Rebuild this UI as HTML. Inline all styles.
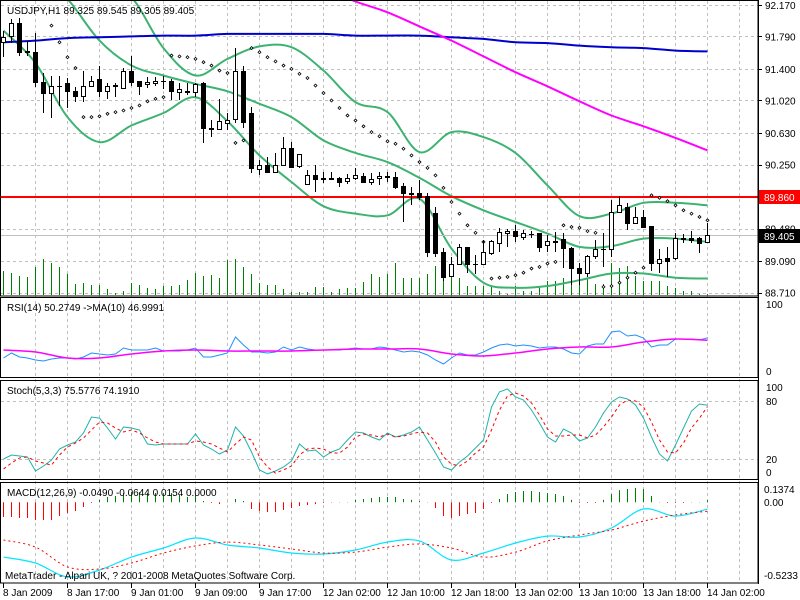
<!DOCTYPE html>
<html><head><meta charset="utf-8"><style>
html,body{margin:0;padding:0;background:#fff;}
svg{display:block;font-family:"Liberation Sans",sans-serif;}
text{font-size:10px;fill:#000;}
</style></head><body>
<svg id="chart" width="800" height="600" xmlns="http://www.w3.org/2000/svg">
<defs>
<clipPath id="cMain"><rect x="1" y="1" width="757" height="295"/></clipPath>
<clipPath id="cRsi"><rect x="1" y="298" width="757" height="79"/></clipPath>
<clipPath id="cSto"><rect x="1" y="381" width="757" height="98"/></clipPath>
<clipPath id="cMacd"><rect x="1" y="483" width="757" height="100"/></clipPath>
</defs>
<rect x="0" y="0" width="800" height="600" fill="#fff"/>
<g id="grid"></g>
<g id="main" clip-path="url(#cMain)"></g>
<g id="rsi" clip-path="url(#cRsi)"></g>
<g id="sto" clip-path="url(#cSto)"></g>
<g id="macd" clip-path="url(#cMacd)"></g>
<g id="frame">
<rect x="0.5" y="0.5" width="757.5" height="295.5" fill="none" stroke="#000"/>
<rect x="0.5" y="297.5" width="757.5" height="80" fill="none" stroke="#000"/>
<rect x="0.5" y="380.5" width="757.5" height="99" fill="none" stroke="#000"/>
<rect x="0.5" y="482.5" width="757.5" height="100.5" fill="none" stroke="#000"/>
</g>
<g id="axis"></g>
<text x="7" y="14">USDJPY,H1  89.325 89.545 89.305 89.405</text>
<text x="7" y="311">RSI(14) 50.2749  -&gt;MA(10) 46.9991</text>
<text x="7" y="394">Stoch(5,3,3) 75.5776 74.1910</text>
<text x="7" y="496">MACD(12,26,9) -0.0490 -0.0644 0.0154 0.0000</text>
<text x="5" y="579">MetaTrader - Alpari UK, ? 2001-2008 MetaQuotes Software Corp.</text>
</svg>
<script>
const opens=[91.72,91.80,91.95,91.61,91.60,91.24,91.11,91.19,91.23,91.14,91.07,91.20,91.28,91.14,91.20,91.17,91.38,91.25,91.22,91.23,91.26,91.25,91.12,91.13,91.12,91.23,90.69,90.68,90.75,90.80,91.37,90.87,90.20,90.24,90.16,90.24,90.45,90.23,90.02,90.12,90.09,90.09,90.09,90.05,90.09,90.11,90.04,90.09,90.11,90.10,89.99,89.91,89.91,89.87,89.67,89.20,88.91,89.06,89.26,89.06,89.06,89.19,89.31,89.43,89.45,89.38,89.42,89.43,89.28,89.33,89.36,89.25,89.01,88.95,89.15,89.24,89.24,89.68,89.74,89.55,89.62,89.51,89.07,89.13,89.13,89.37,89.37,89.37,89.325];
const highs=[91.86,92.00,92.01,91.74,91.83,91.35,91.32,91.31,91.29,91.18,91.37,91.31,91.44,91.23,91.23,91.41,91.56,91.26,91.30,91.30,91.32,91.28,91.23,91.23,91.23,91.24,90.78,91.04,90.87,91.65,91.44,90.94,90.30,90.34,90.39,90.58,90.52,90.38,90.18,90.24,90.16,90.16,90.10,90.14,90.21,90.15,90.15,90.16,90.16,90.16,90.03,89.98,90.06,89.91,89.74,89.25,89.14,89.30,89.26,89.16,89.34,89.34,89.49,89.48,89.52,89.46,89.45,89.43,89.40,89.44,89.43,89.26,89.07,89.16,89.34,89.43,89.82,89.87,89.79,89.74,89.70,89.51,89.24,89.26,89.43,89.42,89.45,89.38,89.545];
const lows=[91.54,91.71,91.56,91.56,91.18,90.87,90.81,90.95,90.93,91.00,91.00,91.18,91.06,91.04,91.06,91.17,91.20,91.08,91.17,91.20,91.16,91.02,91.02,91.08,91.06,90.51,90.58,90.66,90.66,90.75,90.69,90.15,90.12,90.15,90.15,90.23,90.21,90.21,90.02,89.92,90.03,90.06,89.98,90.02,90.06,90.03,90.00,90.00,90.04,89.96,89.56,89.76,89.82,89.14,89.14,88.85,88.90,89.04,88.95,88.94,89.04,89.16,89.20,89.26,89.32,89.34,89.37,89.20,89.20,89.20,89.01,88.80,88.80,88.90,89.12,89.02,89.14,89.67,89.46,89.54,89.49,88.97,88.95,88.90,89.10,89.31,89.31,89.19,89.305];
const closes=[91.78,91.95,91.60,91.60,91.24,91.11,91.20,91.20,91.13,91.07,91.20,91.26,91.13,91.19,91.21,91.37,91.24,91.20,91.24,91.26,91.25,91.13,91.16,91.12,91.22,90.69,90.68,90.77,90.78,91.37,90.76,90.21,90.24,90.16,90.24,90.45,90.22,90.38,90.12,90.08,90.08,90.08,90.04,90.09,90.12,90.04,90.08,90.11,90.10,89.98,89.91,89.90,89.86,89.20,89.19,88.90,89.06,89.26,89.06,89.05,89.20,89.33,89.44,89.45,89.39,89.43,89.41,89.26,89.33,89.32,89.25,89.01,88.95,89.15,89.24,89.23,89.68,89.76,89.55,89.62,89.50,89.07,89.12,89.09,89.37,89.36,89.34,89.31,89.405];
const volumes=[720,660,570,540,840,1080,960,840,630,330,360,300,300,180,60,120,360,300,210,180,270,270,300,450,660,570,600,510,1050,1080,840,630,360,300,300,180,90,90,90,240,240,90,180,210,210,390,630,540,630,960,510,510,510,630,870,420,570,510,270,270,270,270,120,30,270,120,120,270,420,420,510,630,570,480,330,330,960,810,870,570,420,420,420,270,210,120,120,30,30];
const sar=[null,null,null,null,null,null,91.92,91.72,91.54,91.41,90.82,90.82,90.83,90.86,90.88,90.90,90.93,90.96,91.01,91.04,91.06,91.56,91.55,91.54,91.52,91.48,91.44,91.38,91.35,90.51,90.54,91.65,91.60,91.54,91.49,91.44,91.40,91.34,91.29,91.20,91.11,91.02,90.93,90.84,90.78,90.71,90.64,90.59,90.53,90.50,90.44,90.36,90.28,90.21,90.12,89.97,89.80,89.66,89.52,89.43,89.32,88.88,88.89,88.90,88.92,88.95,89.00,89.02,89.06,89.08,89.52,89.50,89.49,89.45,89.43,88.78,88.79,88.83,88.89,88.95,89.01,89.88,89.85,89.81,89.76,89.70,89.66,89.62,89.58];
// sampled every 4 bars (bar 0,4,...,88)
const bbUpper=[92.82,92.76,92.64,92.46,92.26,91.65,91.32,91.52,91.67,91.66,91.38,91.00,90.88,90.40,90.64,90.58,90.39,90.00,89.63,89.66,89.79,89.79,89.76];
const bbMiddle=[93.00,92.58,92.24,91.74,91.44,91.32,91.22,91.13,90.98,90.82,90.54,90.39,90.28,90.09,89.87,89.70,89.56,89.42,89.26,89.27,89.36,89.36,89.32];
const bbLower=[91.86,91.47,90.82,90.52,90.72,90.87,91.06,90.77,90.36,90.04,89.75,89.66,89.64,89.84,89.24,88.83,88.77,88.79,88.86,88.94,88.94,88.89,88.88];
const maSlow=[91.72,91.74,91.77,91.78,91.79,91.80,91.80,91.82,91.82,91.82,91.82,91.80,91.80,91.80,91.78,91.76,91.72,91.71,91.68,91.66,91.65,91.62,91.61];
const maFast=[null,null,null,null,null,null,null,null,null,null,92.37,92.21,92.08,91.91,91.74,91.55,91.36,91.19,91.01,90.84,90.71,90.57,90.42];
const rsiVals=[23.7,30.3,25.0,23.7,21.1,19.7,22.4,23.7,23.7,22.4,25.0,30.3,29.0,27.6,29.0,36.8,34.2,34.2,34.2,36.8,32.9,32.9,32.9,34.2,36.8,25.0,25.0,27.6,30.3,51.3,40.8,31.6,31.6,30.3,31.6,38.2,34.2,38.2,35.5,34.2,34.2,34.2,34.2,35.5,36.8,35.5,35.5,38.2,36.8,34.2,31.6,32.9,31.6,27.6,21.1,15.8,23.7,30.3,27.6,27.6,31.6,36.8,40.8,42.1,39.5,40.8,39.5,36.8,38.2,38.2,35.5,30.3,29.0,39.5,42.1,42.1,57.9,59.2,52.6,54.0,50.0,38.2,40.8,40.8,48.7,48.7,48.7,47.4,50.3];
const rsiMa=[34.2,31.6,23.7,23.7,29.0,32.9,34.2,32.9,32.9,32.9,34.2,35.5,35.5,35.5,29.0,26.3,30.3,35.5,38.2,38.2,44.7,48.7,47.0];
const stochMain=[20.0,24.1,23.1,22.0,7.5,12.7,18.9,30.3,34.4,37.5,46.8,63.4,62.3,52.0,40.6,53.0,52.0,49.9,35.5,34.4,35.5,35.5,35.5,35.5,45.8,34.4,30.3,25.1,29.3,53.0,43.7,27.2,8.6,4.5,7.5,11.7,17.9,35.5,28.2,29.3,22.0,27.2,30.3,39.6,47.9,46.8,42.7,39.6,46.8,42.7,44.8,47.9,53.0,39.6,26.2,11.7,8.6,16.9,23.1,31.3,39.6,73.7,89.3,92.4,84.1,81.0,70.6,57.2,42.7,37.5,51.0,46.8,38.6,41.7,53.0,67.5,78.9,84.1,82.0,75.8,62.3,42.7,25.1,17.9,34.4,52.0,69.6,76.8,75.6];
const stochSignal=[9.6,15.8,21.0,22.0,17.9,15.8,13.7,24.1,32.4,36.5,41.7,49.9,58.2,57.2,52.0,47.9,49.9,46.8,41.7,37.5,35.5,35.5,35.5,35.5,38.6,37.5,35.5,31.3,27.2,35.5,42.7,39.6,22.0,11.7,5.5,8.6,12.7,24.1,30.3,31.3,30.3,26.2,26.2,32.4,42.7,45.8,44.8,42.7,45.8,42.7,43.7,45.8,47.9,46.8,37.5,22.0,14.8,12.7,17.9,26.2,32.4,49.9,70.6,85.1,88.2,85.1,77.9,65.4,51.0,43.7,43.7,44.8,44.8,41.7,44.8,53.0,63.4,75.8,81.0,79.9,73.7,58.2,39.6,27.2,26.2,36.5,52.0,62.3,74.2];
const macdHist=[-0.106,-0.106,-0.113,-0.113,-0.127,-0.127,-0.127,-0.099,-0.077,-0.063,-0.034,-0.005,0.017,0.038,0.045,0.067,0.074,0.074,0.067,0.067,0.067,0.067,0.053,0.038,0.053,0.009,-0.005,-0.012,0.002,0.024,0.009,-0.048,-0.063,-0.070,-0.070,-0.055,-0.041,-0.027,-0.019,-0.012,-0.005,-0.002,0.002,0.002,0.017,0.024,0.031,0.038,0.038,0.038,0.024,0.017,0.009,0.002,-0.041,-0.099,-0.113,-0.099,-0.084,-0.077,-0.048,-0.005,0.024,0.060,0.074,0.081,0.081,0.074,0.067,0.060,0.045,0.017,-0.005,-0.005,-0.005,0.017,0.060,0.088,0.096,0.103,0.096,0.045,0.002,-0.005,-0.005,-0.005,0.002,0.002,0.015];
const macdLine=[-0.394,-0.437,-0.537,-0.487,-0.394,-0.329,-0.257,-0.307,-0.329,-0.365,-0.372,-0.343,-0.286,-0.278,-0.415,-0.365,-0.293,-0.243,-0.250,-0.185,-0.048,-0.099,-0.049];
const macdSignal=[-0.271,-0.322,-0.465,-0.480,-0.437,-0.365,-0.314,-0.286,-0.307,-0.336,-0.365,-0.358,-0.322,-0.300,-0.329,-0.394,-0.358,-0.278,-0.235,-0.199,-0.135,-0.091,-0.064];
const priceTicks=[92.170,91.790,91.400,91.020,90.630,90.250,89.860,89.480,89.090,88.710];
const priceTickLabels=["92.170","91.790","91.400","91.020","90.630","90.250","89.860","89.480","89.090","88.710"];
const timeLabels=["8 Jan 2009","8 Jan 17:00","9 Jan 01:00","9 Jan 09:00","9 Jan 17:00","12 Jan 02:00","12 Jan 10:00","12 Jan 18:00","13 Jan 02:00","13 Jan 10:00","13 Jan 18:00","14 Jan 02:00"];
const levelPrice=89.860;
const lastPrice=89.405;

const NS="http://www.w3.org/2000/svg";
function mk(parent,tag,attrs){const e=document.createElementNS(NS,tag);for(const k in attrs)e.setAttribute(k,attrs[k]);parent.appendChild(e);return e;}
const xOf=i=>3+8*i;
const yP=p=>197-(p-89.86)*83.2;
const yR=v=>376-0.76*v;
const yS=v=>478.3-0.967*v;
const yM=v=>502.3-139*v;
const gMain=document.getElementById('main'),gR=document.getElementById('rsi'),gS=document.getElementById('sto'),gM=document.getElementById('macd'),gGrid=document.getElementById('grid'),gAx=document.getElementById('axis');

for(let x=35;x<758;x+=32){const l=mk(gGrid,'line',{x1:x+.5,x2:x+.5,y1:1,y2:583,stroke:'#c0c0c0','stroke-dasharray':'3,3'});

}
priceTicks.forEach(v=>{const y=Math.round(yP(v))+.5;const l=mk(gGrid,'line',{x1:1,x2:758,y1:y,y2:y,stroke:'#c0c0c0','stroke-dasharray':'3,3'});

});
[80,20].forEach(v=>{const y=Math.round(yS(v))+.5;const l=mk(gGrid,'line',{x1:1,x2:758,y1:y,y2:y,stroke:'#c0c0c0','stroke-dasharray':'3,3'});

});

volumes.forEach((v,i)=>{const x=xOf(i)+.5;const l=mk(gMain,'line',{x1:x,x2:x,y1:295,y2:295-v/30,stroke:'#008000'});

});

function poly(g,pts,attrs,name){const d=pts.filter(p=>p[1]!==null).map(p=>p[0].toFixed(1)+','+p[1].toFixed(1)).join(' ');const e=mk(g,'polyline',Object.assign({points:d,fill:'none'},attrs));

return e;}
function smooth(g,pts,attrs,name){const p=pts.filter(q=>q[1]!==null);let d='M'+p[0][0]+','+p[0][1];
for(let i=0;i<p.length-1;i++){const p0=p[i-1]||p[i],p1=p[i],p2=p[i+1],p3=p[i+2]||p2;
const c1x=p1[0]+(p2[0]-p0[0])/6,c1y=p1[1]+(p2[1]-p0[1])/6,c2x=p2[0]-(p3[0]-p1[0])/6,c2y=p2[1]-(p3[1]-p1[1])/6;
d+=`C${c1x.toFixed(1)},${c1y.toFixed(1)} ${c2x.toFixed(1)},${c2y.toFixed(1)} ${p2[0].toFixed(1)},${p2[1].toFixed(1)}`;}
const e=mk(g,'path',Object.assign({d:d,fill:'none'},attrs));

return e;}
const sampled=(arr,f)=>arr.map((v,k)=>[xOf(4*k)+.5,v===null?null:f(v)]);

smooth(gMain,sampled(bbUpper,yP),{stroke:'#3cb371','stroke-width':2},'bollinger-upper');
smooth(gMain,sampled(bbMiddle,yP),{stroke:'#3cb371','stroke-width':2},'bollinger-middle');
smooth(gMain,sampled(bbLower,yP),{stroke:'#3cb371','stroke-width':2},'bollinger-lower');
smooth(gMain,sampled(maSlow,yP),{stroke:'#0000cd','stroke-width':2},'moving-average-slow');
smooth(gMain,sampled(maFast,yP),{stroke:'#ff00ff','stroke-width':2},'moving-average-fast');

const yl=Math.round(yP(levelPrice));
const rl=mk(gMain,'rect',{x:1,y:yl-1,width:757,height:2,fill:'#ff0000'});


const yc=Math.round(yP(lastPrice))+.5;
const bl=mk(gMain,'line',{x1:1,x2:758,y1:yc,y2:yc,stroke:'#c0c0c0'});



sar.forEach((v,i)=>{if(v===null)return;const x=xOf(i)+.5,y=yP(v);const d=mk(gMain,'path',{d:`M${x},${y-1.5}L${x+1.5},${y}L${x},${y+1.5}L${x-1.5},${y}Z`,fill:'#fff',stroke:'#000','stroke-width':0.8});

});

opens.forEach((o,i)=>{const x=xOf(i)+.5,c=closes[i];const g=mk(gMain,'g',{});


mk(g,'line',{x1:x,x2:x,y1:Math.round(yP(highs[i])),y2:Math.round(yP(lows[i])),stroke:'#000'});
const top=Math.round(yP(Math.max(o,c))),bot=Math.round(yP(Math.min(o,c)));
const up=c>=o;
if(bot-top<1){mk(g,'line',{x1:x-2.5,x2:x+2.5,y1:top+.5,y2:top+.5,stroke:'#000'});}
else mk(g,'rect',{x:x-2,y:top+.5,width:4,height:bot-top,fill:up?'#fff':'#000',stroke:'#000'});});

poly(gR,rsiVals.map((v,i)=>[xOf(i)+.5,yR(v)]),{stroke:'#1e90ff','stroke-width':1},'rsi-line');
smooth(gR,sampled(rsiMa,yR),{stroke:'#ff00ff','stroke-width':1.5},'rsi-ma-line');

poly(gS,stochMain.map((v,i)=>[xOf(i)+.5,yS(v)]),{stroke:'#20b2aa','stroke-width':1},'stoch-main-line');
poly(gS,stochSignal.map((v,i)=>[xOf(i)+.5,yS(v)]),{stroke:'#ff0000','stroke-width':1,'stroke-dasharray':'3,3'},'stoch-signal-line');

macdHist.forEach((v,i)=>{const x=xOf(i)+.5;const l=mk(gM,'line',{x1:x,x2:x,y1:yM(0),y2:yM(v),stroke:v>=0?'#008000':'#ff0000'});

});
smooth(gM,sampled(macdLine,yM),{stroke:'#00e5ff','stroke-width':1.2},'macd-line');
smooth(gM,sampled(macdSignal,yM),{stroke:'#ff0000','stroke-width':1,'stroke-dasharray':'2,3'},'macd-signal-line');

const ax=mk(gAx,'line',{x1:758.5,x2:758.5,y1:0,y2:584,stroke:'#000'});


function lab(x,y,t,name,fill){const e=mk(gAx,'text',{x:x,y:y});e.textContent=t;if(fill)e.setAttribute('style','fill:'+fill);

return e;}
priceTicks.forEach((v,k)=>{const y=yP(v);mk(gAx,'line',{x1:758,x2:762,y1:Math.round(y)+.5,y2:Math.round(y)+.5,stroke:'#000'});lab(765,Math.max(y+4,9),priceTickLabels[k],'price-tick-label');});
const r1=mk(gAx,'rect',{x:759,y:yl-7,width:41,height:14,fill:'#ff0000'});


lab(764,yl+4,levelPrice.toFixed(3),'level-price-label','#fff');
const r2=mk(gAx,'rect',{x:759,y:Math.round(yc)-7,width:41,height:14,fill:'#000'});


lab(764,Math.round(yc)+4,lastPrice.toFixed(3),'bid-price-label','#fff');
[[100,308],[0,375]].forEach(a=>lab(766,a[1],String(a[0]),'rsi-tick-label'));
[[100,391],[80,405],[20,463],[0,476]].forEach(a=>lab(766,a[1],String(a[0]),'stoch-tick-label'));
lab(764,493,'0.1374','macd-tick-label');lab(764,506,'0.00','macd-tick-label');lab(764,579,'-0.5233','macd-tick-label');
timeLabels.forEach((t,k)=>{const x=3+64*k;mk(gAx,'line',{x1:x+.5,x2:x+.5,y1:583,y2:588,stroke:'#000'});lab(x,596,t,'time-axis-label');});
</script>
</body></html>
